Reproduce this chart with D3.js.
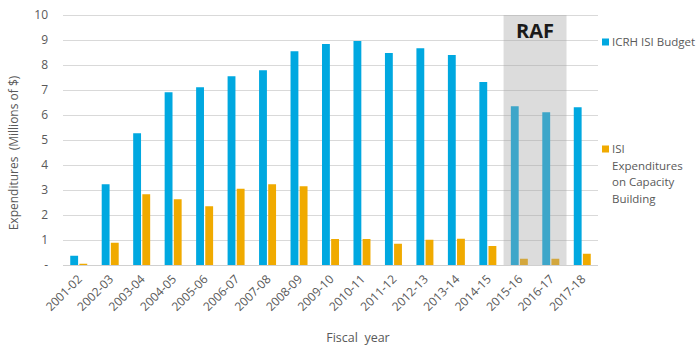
<!DOCTYPE html>
<html>
<head>
<meta charset="utf-8">
<script src="https://cdn.jsdelivr.net/npm/d3@7"></script>
<style>
  body { margin: 0; background: #fff; }
  svg text { font-family: "Open Sans", "Liberation Sans", sans-serif; fill: #595959; }
</style>
</head>
<body>
<svg width="700" height="350"></svg>
<script>
const years = ['2001-02', '2002-03', '2003-04', '2004-05', '2005-06', '2006-07', '2007-08', '2008-09',
    '2009-10', '2010-11', '2011-12', '2012-13', '2013-14', '2014-15', '2015-16', '2016-17', '2017-18'];
const budget = [0.37, 3.23, 5.27, 6.91, 7.11, 7.55, 7.79, 8.55, 8.84, 8.96, 8.48, 8.67, 8.40, 7.32, 6.35, 6.11, 6.31];
const capacity = [0.05, 0.89, 2.83, 2.63, 2.35, 3.05, 3.23, 3.15, 1.04, 1.04, 0.85, 1.01, 1.05, 0.76, 0.25, 0.25, 0.45];
const seriesNames = ['ICRH ISI Budget', 'ISI Expenditures on Capacity Building'];
const yTicks = [0, 1, 2, 3, 4, 5, 6, 7, 8, 9, 10];
const rafYears = ['2015-16', '2016-17'];

const svg = d3.select('svg');
const margin = { top: 15, right: 102, bottom: 85, left: 63 };
const width = +svg.attr('width');
const height = +svg.attr('height');
const innerWidth = width - margin.left - margin.right;
const innerHeight = height - margin.top - margin.bottom;

// scales work in absolute svg coordinates so every label sits at positive x/y
const xScale = d3.scaleBand()
    .domain(years)
    .range([margin.left, margin.left + innerWidth])
    .paddingInner(0.46)
    .paddingOuter(0.23);

const xInner = d3.scaleBand()
    .domain(seriesNames)
    .range([0, xScale.bandwidth()])
    .paddingInner(0.14);

const yScale = d3.scaleLinear()
    .domain([0, 10])
    .range([margin.top + innerHeight, margin.top]);

const colorScale = d3.scaleOrdinal()
    .domain(seriesNames)
    .range(['#00a8e0', '#f0aa00']);

const x0 = margin.left;
const x1 = margin.left + innerWidth;
const yBase = yScale(0);

// gridlines
svg.selectAll('.grid')
    .data(yTicks)
    .enter().append('line')
    .attr('x1', x0)
    .attr('x2', x1)
    .attr('y1', d => Math.round(yScale(d)) + 0.5)
    .attr('y2', d => Math.round(yScale(d)) + 0.5)
    .attr('stroke', '#d9d9d9')
    .attr('stroke-width', 1);

// y tick labels
svg.selectAll('.ylab')
    .data(yTicks)
    .enter().append('text')
    .attr('x', x0 - 15)
    .attr('y', d => yScale(d) + 4)
    .attr('text-anchor', 'end')
    .style('font-size', '12px')
    .text(d => d === 0 ? '-' : d);

const rows = years.map((y, i) => ({ year: y, values: [budget[i], capacity[i]] }));

svg.selectAll('.year')
    .data(rows)
    .enter().append('g')
    .selectAll('rect')
    .data(d => d.values.map((v, i) => ({ year: d.year, key: seriesNames[i], value: v })))
    .enter().append('rect')
    .attr('x', d => xScale(d.year) + xInner(d.key))
    .attr('y', d => yScale(d.value))
    .attr('width', xInner.bandwidth())
    .attr('height', d => yBase - yScale(d.value))
    .attr('fill', d => colorScale(d.key));

// RAF shaded overlay
const step = xScale.step();
const rafX0 = xScale(rafYears[0]) - xScale.paddingInner() * step / 2;
const rafX1 = xScale(rafYears[rafYears.length - 1]) + xScale.bandwidth() + xScale.paddingInner() * step / 2;
svg.append('rect')
    .attr('x', rafX0)
    .attr('y', margin.top)
    .attr('width', rafX1 - rafX0)
    .attr('height', innerHeight)
    .attr('fill', 'rgb(164,164,164)')
    .attr('fill-opacity', 0.38);

svg.append('text')
    .attr('x', (rafX0 + rafX1) / 2)
    .attr('y', margin.top + 23)
    .attr('text-anchor', 'middle')
    .style('font-size', '20px')
    .style('font-weight', 'bold')
    .style('fill', '#1a1a1a')
    .text('RAF');

// x axis line
svg.append('line')
    .attr('x1', x0)
    .attr('x2', x1)
    .attr('y1', yBase + 0.5)
    .attr('y2', yBase + 0.5)
    .attr('stroke', '#d0d0d0');

// x tick labels
svg.selectAll('.xlab')
    .data(years)
    .enter().append('text')
    .attr('text-anchor', 'end')
    .attr('x', d => xScale(d) + xScale.bandwidth() / 2 + 4)
    .attr('y', yBase + 15)
    .attr('transform', d => `rotate(-45, ${xScale(d) + xScale.bandwidth() / 2 + 4}, ${yBase + 15})`)
    .style('font-size', '12px')
    .text(d => d);

// axis titles
const yTitleY = margin.top + innerHeight / 2 + 13;
svg.append('text')
    .attr('x', 18)
    .attr('y', yTitleY)
    .attr('transform', `rotate(-90, 18, ${yTitleY})`)
    .attr('text-anchor', 'middle')
    .style('font-size', '12px')
    .text('Expenditures\u00a0\u00a0(Millions of $)');

svg.append('text')
    .attr('x', 358)
    .attr('y', 342)
    .attr('text-anchor', 'middle')
    .style('font-size', '12.5px')
    .text('Fiscal\u00a0\u00a0year');

// legend
const legendItems = [
    { key: seriesNames[0], y: 42, lines: ['ICRH ISI Budget'] },
    { key: seriesNames[1], y: 149, lines: ['ISI', 'Expenditures', 'on Capacity', 'Building'] }
];

svg.selectAll('.legendSwatch')
    .data(legendItems)
    .enter().append('rect')
    .attr('x', 602)
    .attr('y', d => d.y - 3.5)
    .attr('width', 7)
    .attr('height', 7)
    .attr('fill', d => colorScale(d.key));

svg.selectAll('.legendText')
    .data(legendItems)
    .enter().append('g')
    .selectAll('text')
    .data(d => d.lines.map((t, i) => ({ t, y: d.y + i * 16.7 + 4 })))
    .enter().append('text')
    .attr('x', 612)
    .attr('y', d => d.y)
    .style('font-size', '11.5px')
    .text(d => d.t);
</script>
</body>
</html>
